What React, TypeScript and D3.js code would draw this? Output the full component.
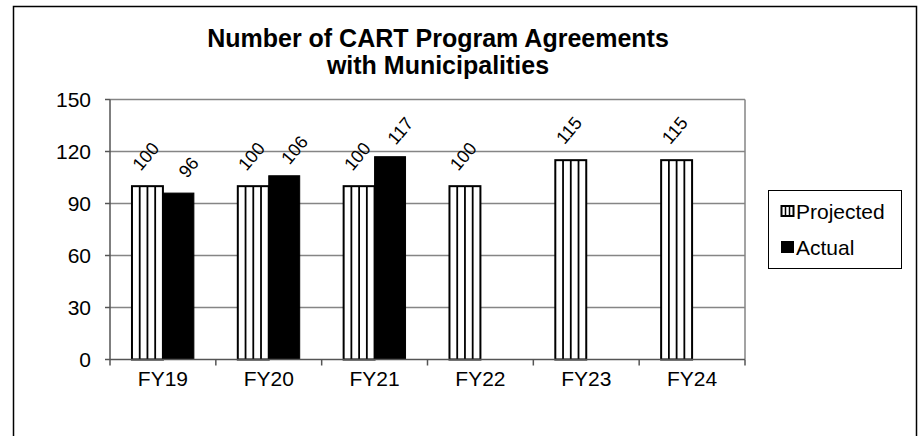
import * as d3 from "d3";
import { useEffect, useRef } from "react";

const categories = ["FY19", "FY20", "FY21", "FY22", "FY23", "FY24"];
const projected = [100, 100, 100, 100, 115, 115];
const actual: (number | null)[] = [96, 106, 117, null, null, null];
const yTicks = [0, 30, 60, 90, 120, 150];
const seriesNames = ["Projected", "Actual"];

export default function App() {
  const svgRef = useRef<SVGSVGElement>(null);

  useEffect(() => {
    if (!svgRef.current) return;
    const svg = d3.select(svgRef.current);
    svg.selectAll("*").remove();

    const font = "Arial, 'Liberation Sans', sans-serif";
    const left = 110,
      right = 745,
      top = 99.5,
      bottom = 359.5;

    // outer chart border
    svg
      .append("rect")
      .attr("x", 13.5)
      .attr("y", 6.5)
      .attr("width", 903)
      .attr("height", 440)
      .attr("fill", "#fff")
      .attr("stroke", "#000")
      .attr("stroke-width", 1.5);

    // title
    const title = svg
      .append("text")
      .attr("text-anchor", "middle")
      .attr("font-family", font)
      .attr("font-weight", "bold")
      .attr("font-size", 25)
      .attr("fill", "#000");
    title.append("tspan").attr("x", 438).attr("y", 47).text("Number of CART Program Agreements");
    title.append("tspan").attr("x", 438).attr("y", 74).text("with Municipalities");

    const x0 = d3.scaleBand().domain(categories).range([left, right]);
    const x1 = d3
      .scaleBand()
      .domain(seriesNames)
      .range([0, x0.bandwidth()])
      .paddingOuter(0.71);
    const y = d3.scaleLinear().domain([0, 150]).range([bottom, top]);

    const g = svg.append("g");

    // gridlines
    g.selectAll("line.grid")
      .data(yTicks.filter((t) => t > 0))
      .enter()
      .append("line")
      .attr("x1", left)
      .attr("x2", right)
      .attr("y1", (d) => y(d))
      .attr("y2", (d) => y(d))
      .attr("stroke", "#858585")
      .attr("stroke-width", 1.5);

    // plot area right border
    g.append("line")
      .attr("x1", right)
      .attr("x2", right)
      .attr("y1", top)
      .attr("y2", bottom)
      .attr("stroke", "#858585")
      .attr("stroke-width", 1.5);

    // y axis
    g.append("line")
      .attr("x1", left)
      .attr("x2", left)
      .attr("y1", top)
      .attr("y2", bottom)
      .attr("stroke", "#555")
      .attr("stroke-width", 1.5);
    g.selectAll("line.ytick")
      .data(yTicks)
      .enter()
      .append("line")
      .attr("x1", left - 5)
      .attr("x2", left)
      .attr("y1", (d) => y(d))
      .attr("y2", (d) => y(d))
      .attr("stroke", "#555")
      .attr("stroke-width", 1.5);
    g.selectAll("text.ylab")
      .data(yTicks)
      .enter()
      .append("text")
      .attr("x", left - 19)
      .attr("y", (d) => y(d))
      .attr("dy", "0.36em")
      .attr("text-anchor", "end")
      .attr("font-family", font)
      .attr("font-size", 21)
      .text((d) => d);

    // bars
    const groups = g
      .selectAll("g.cat")
      .data(categories)
      .enter()
      .append("g")
      .attr("transform", (d) => `translate(${x0(d)},0)`);

    const bw = x1.bandwidth();
    const angle = -50;
    groups.each(function (cat, i) {
      const cg = d3.select(this);
      const px = x1("Projected") as number;
      const pv = projected[i];
      cg.append("rect")
        .attr("x", px)
        .attr("y", y(pv))
        .attr("width", bw)
        .attr("height", bottom - y(pv))
        .attr("fill", "#fff")
        .attr("stroke", "#000")
        .attr("stroke-width", 2);
      [0.25, 0.5, 0.75].forEach((f) => {
        cg.append("line")
          .attr("x1", px + bw * f)
          .attr("x2", px + bw * f)
          .attr("y1", y(pv))
          .attr("y2", bottom)
          .attr("stroke", "#000")
          .attr("stroke-width", 1.8);
      });
      cg.append("text")
        .attr("transform", `translate(${px + bw / 2 - 2},${y(pv) - 30}) rotate(${angle})`)
        .attr("text-anchor", "middle")
        .attr("dy", "0.36em")
        .attr("font-family", font)
        .attr("font-size", 18)
        .text(pv);

      const av = actual[i];
      if (av != null) {
        const ax = x1("Actual") as number;
        cg.append("rect")
          .attr("x", ax)
          .attr("y", y(av))
          .attr("width", bw)
          .attr("height", bottom - y(av))
          .attr("fill", "#000")
          .attr("stroke", "#000")
          .attr("stroke-width", 1);
        cg.append("text")
          .attr("transform", `translate(${ax + bw / 2 + 10},${y(av) - 26}) rotate(${angle})`)
          .attr("text-anchor", "middle")
          .attr("dy", "0.36em")
          .attr("font-family", font)
          .attr("font-size", 18)
          .text(av);
      }
    });

    // x axis
    g.append("line")
      .attr("x1", left)
      .attr("x2", right)
      .attr("y1", bottom)
      .attr("y2", bottom)
      .attr("stroke", "#555")
      .attr("stroke-width", 1.5);
    const bounds = categories.map((c) => x0(c) as number).concat([right]);
    g.selectAll("line.xtick")
      .data(bounds)
      .enter()
      .append("line")
      .attr("x1", (d) => d)
      .attr("x2", (d) => d)
      .attr("y1", bottom)
      .attr("y2", bottom + 6)
      .attr("stroke", "#555")
      .attr("stroke-width", 1.5);
    g.selectAll("text.xlab")
      .data(categories)
      .enter()
      .append("text")
      .attr("x", (d) => (x0(d) as number) + x0.bandwidth() / 2)
      .attr("y", 386)
      .attr("text-anchor", "middle")
      .attr("font-family", font)
      .attr("font-size", 21)
      .text((d) => d);

    // legend
    const lg = svg.append("g");
    lg.append("rect")
      .attr("x", 768.5)
      .attr("y", 190.5)
      .attr("width", 133)
      .attr("height", 78)
      .attr("fill", "#fff")
      .attr("stroke", "#000")
      .attr("stroke-width", 1);
    const items = lg
      .selectAll("g.item")
      .data(seriesNames)
      .enter()
      .append("g")
      .attr("transform", (d, i) => `translate(781,${211 + i * 36})`);
    items.each(function (name) {
      const it = d3.select(this);
      if (name === "Projected") {
        it.append("rect")
          .attr("x", 0.5)
          .attr("y", -5)
          .attr("width", 12)
          .attr("height", 10)
          .attr("fill", "#fff")
          .attr("stroke", "#000")
          .attr("stroke-width", 2);
        [4.5, 8.5].forEach((lx) =>
          it.append("line")
            .attr("x1", lx)
            .attr("x2", lx)
            .attr("y1", -5)
            .attr("y2", 5)
            .attr("stroke", "#000")
            .attr("stroke-width", 1.5)
        );
      } else {
        it.append("rect")
          .attr("x", 0)
          .attr("y", -6)
          .attr("width", 13)
          .attr("height", 12)
          .attr("fill", "#000");
      }
      it.append("text")
        .attr("x", 15)
        .attr("y", 0)
        .attr("dy", "0.36em")
        .attr("font-family", font)
        .attr("font-size", 21)
        .text(name);
    });
  }, []);

  return (
    <svg
      ref={svgRef}
      width={922}
      height={436}
      style={{ position: "absolute", left: 0, top: 0, background: "#fff" }}
    />
  );
}
